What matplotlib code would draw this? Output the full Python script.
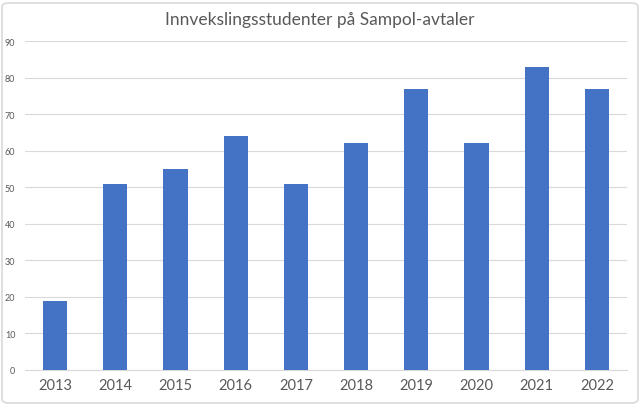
import matplotlib.pyplot as plt
from matplotlib.patches import FancyBboxPatch

years = ['2013', '2014', '2015', '2016', '2017', '2018', '2019', '2020', '2021', '2022']
students = [19, 51, 55, 64, 51, 62, 77, 62, 83, 77]
y_ticks = list(range(0, 100, 10))

plt.rcParams['font.family'] = ['Lato', 'DejaVu Sans']
grey = '#595959'

fig = plt.figure(figsize=(6.4, 4.06), dpi=100)
ax = fig.add_axes([25 / 640, 1 - 371 / 406, 602 / 640, 329 / 406])

ax.bar(range(len(years)), students, width=0.4, color='#4472C4', zorder=3)
ax.set_xlim(-0.5, len(years) - 0.5)
ax.set_ylim(0, 90)
ax.set_yticks(y_ticks)
ax.set_xticks(range(len(years)))
ax.set_xticklabels(years, fontsize=10.5, color=grey)
ax.tick_params(axis='y', labelsize=6.5, colors=grey, length=0, pad=7)
ax.tick_params(axis='x', length=0, pad=6)
ax.grid(axis='y', color='#D9D9D9', linewidth=0.8, zorder=0)
for side in ['top', 'right', 'left']:
    ax.spines[side].set_visible(False)
ax.spines['bottom'].set_color('#D9D9D9')

fig.text(0.5, 1 - 20 / 406, 'Innvekslingsstudenter på Sampol-avtaler',
         ha='center', va='center', fontsize=12.5, color=grey)

# outer chart frame
frame = FancyBboxPatch((2 / 640, 2 / 406), 636 / 640, 400 / 406,
                       boxstyle='round,pad=0,rounding_size=0.01',
                       transform=fig.transFigure, fill=False,
                       edgecolor='#D9D9D9', linewidth=1.2)
fig.patches.append(frame)

fig.savefig('out.png', dpi=100)
